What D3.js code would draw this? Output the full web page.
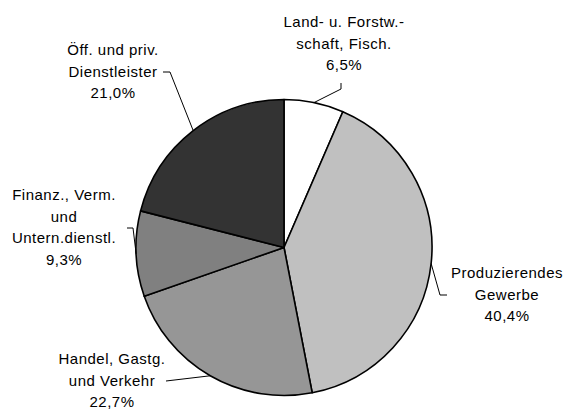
<!DOCTYPE html>
<html lang="de">
<head>
  <meta charset="UTF-8">
  <title>Bruttowertschöpfung</title>
  <style>
    body { margin: 0; background: #fff; }
    text { font-family: "Liberation Sans", Arial, sans-serif; font-size: 15px; fill: #000; letter-spacing: 0.5px; }
  </style>
</head>
<body>
  <div id="main"></div>
  <script src="https://cdn.jsdelivr.net/npm/d3@7"></script>
  <script>
    // Daten
    let categories = [
      ["Land- u. Forstw.-", "schaft, Fisch."],
      ["Produzierendes", "Gewerbe"],
      ["Handel, Gastg.", "und Verkehr"],
      ["Finanz., Verm.", "und", "Untern.dienstl."],
      ["Öff. und priv.", "Dienstleister"]
    ]
    let values = [6.5, 40.4, 22.7, 9.3, 21.0]
    let valueLabels = ["6,5%", "40,4%", "22,7%", "9,3%", "21,0%"]
    let colors = ["#ffffff", "#c0c0c0", "#969696", "#808080", "#333333"]

    const width = 564, height = 409
    const cx = 284, cy = 247.5, r = 148
    const lineH = 21.5

    // label layout: text center x, first line y (middle), leader start point, knee
    const labelPos = [
      { x: 344, y: 22, lx: 341, ly: 83, kx: 341, ky: 89 },
      { x: 507, y: 273, lx: 447, ly: 295, kx: 440, ky: 295 },
      { x: 112, y: 359, lx: 166, ly: 381, kx: 166, ky: 381 },
      { x: 64, y: 195, lx: 127, ly: 228, kx: 133, ky: 228 },
      { x: 113, y: 50, lx: 163, ly: 72, kx: 170, ky: 72 }
    ]

    let svg = d3.select('#main').append('svg')
      .attr('width', width)
      .attr('height', height)

    let pie = d3.pie().sort(null).value(d => d)
    let arcs = pie(values)
    let arc = d3.arc().innerRadius(0).outerRadius(r)

    let g = svg.append('g').attr('transform', `translate(${cx},${cy})`)

    g.selectAll('path')
      .data(arcs)
      .enter().append('path')
      .attr('d', arc)
      .attr('fill', (d, i) => colors[i])
      .attr('stroke', '#000')
      .attr('stroke-width', 1.6)
      .attr('stroke-linejoin', 'round')

    // Führungslinien
    arcs.forEach((d, i) => {
      let mid = (d.startAngle + d.endAngle) / 2
      let px = cx + r * Math.sin(mid)
      let py = cy - r * Math.cos(mid)
      let p = labelPos[i]
      svg.append('polyline')
        .attr('points', `${p.lx},${p.ly} ${p.kx},${p.ky} ${px},${py}`)
        .attr('fill', 'none')
        .attr('stroke', '#000')
        .attr('stroke-width', 1)
    })

    // Beschriftungen
    categories.forEach((lines, i) => {
      let p = labelPos[i]
      let t = svg.append('text')
        .attr('text-anchor', 'middle')
      lines.concat([valueLabels[i]]).forEach((s, j) => {
        t.append('tspan')
          .attr('x', p.x)
          .attr('y', p.y + j * lineH)
          .attr('dy', '0.35em')
          .text(s)
      })
    })
  </script>
</body>
</html>
